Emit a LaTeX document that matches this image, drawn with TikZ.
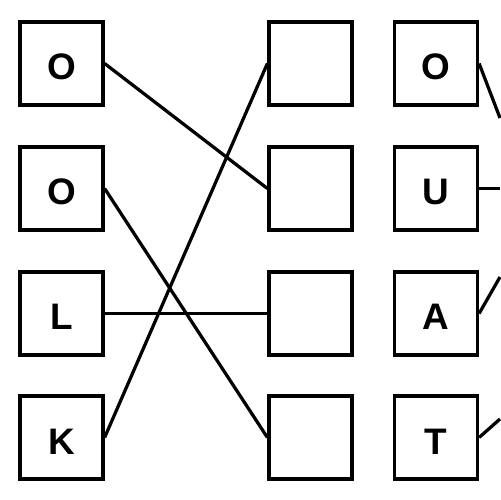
\documentclass[tikz,border=0pt]{standalone}
\usepackage{fontspec}
\setmainfont{Liberation Sans}
\begin{document}
\begin{tikzpicture}[x=0.02cm,y=-0.02cm,
  box/.style={draw, line width=0.065cm, minimum size=1.66cm, inner sep=0pt,
    font=\fontsize{21}{21}\selectfont\bfseries, text height=0.66cm, text depth=0cm},
  conn/.style={line width=0.065cm}]
\useasboundingbox (0,0) rectangle (500,500);
\fill[white] (0,0) rectangle (500,500);
% left column
\node[box] (l1) at (61.5,63.5) {O};
\node[box] (l2) at (61.5,188.5) {O};
\node[box] (l3) at (61.5,313.5) {L};
\node[box] (l4) at (61.5,437.5) {K};
% middle column
\node[box] (m1) at (310.5,63.5) {};
\node[box] (m2) at (310.5,188.5) {};
\node[box] (m3) at (310.5,313.5) {};
\node[box] (m4) at (310.5,437.5) {};
% right column
\node[box] (r1) at (436,63.5) {O};
\node[box] (r2) at (436,188.5) {U};
\node[box] (r3) at (436,313.5) {A};
\node[box] (r4) at (436,437.5) {T};
% off-picture ends
\coordinate (e1) at (500,118);
\coordinate (e2) at (500,188.5);
\coordinate (e3) at (500,277);
\coordinate (e4) at (500,419);
% connectors
\draw[conn] (l1.east) -- (m2.west);
\draw[conn] (l2.east) -- (m4.west);
\draw[conn] (l3.east) -- (m3.west);
\draw[conn] (l4.east) -- (m1.west);
\draw[conn] (r1.east) -- (e1);
\draw[conn] (r2.east) -- (e2);
\draw[conn] (r3.east) -- (e3);
\draw[conn] (r4.east) -- (e4);
\end{tikzpicture}
\end{document}
